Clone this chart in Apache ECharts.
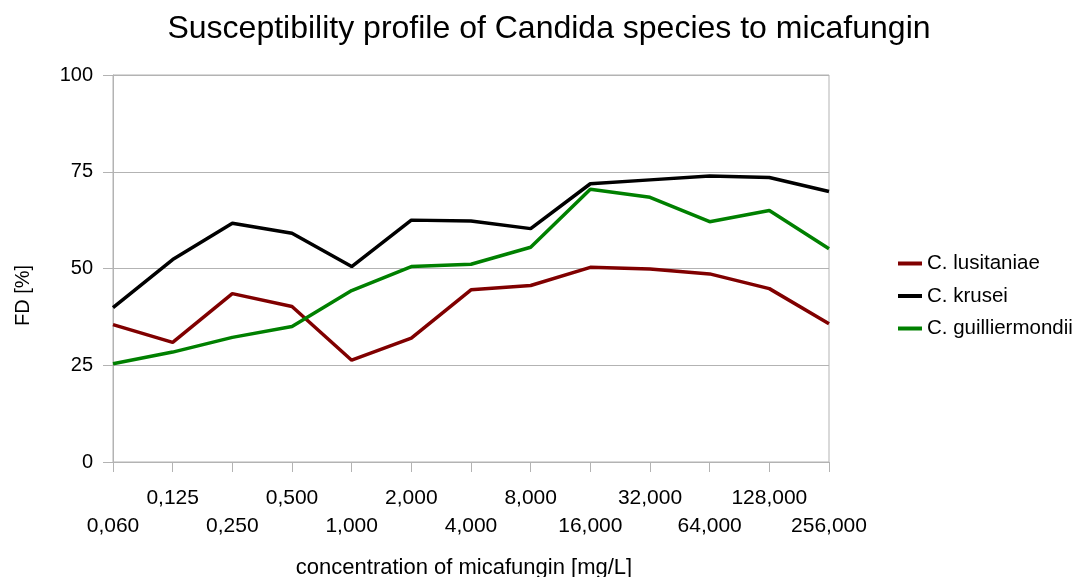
<!DOCTYPE html>
<html>
<head>
<meta charset="utf-8">
<script src="https://cdn.jsdelivr.net/npm/echarts@6/dist/echarts.min.js"></script>
<style>html,body{margin:0;padding:0;background:#fff}#c{width:1073px;height:577px}</style>
</head>
<body>
<div id="c"></div>
<script>
const categories = ['0,060','0,125','0,250','0,500','1,000','2,000','4,000','8,000','16,000','32,000','64,000','128,000','256,000'];
const lusitaniae = [35.5, 30.9, 43.5, 40.2, 26.3, 32.0, 44.5, 45.6, 50.3, 49.9, 48.6, 44.8, 35.7];
const krusei = [39.9, 52.3, 61.7, 59.1, 50.5, 62.5, 62.3, 60.3, 71.9, 72.9, 73.9, 73.5, 69.9];
const guilliermondii = [25.4, 28.4, 32.2, 35.0, 44.3, 50.5, 51.1, 55.5, 70.5, 68.4, 62.1, 65.0, 55.1];
const yTicks = [0, 25, 50, 75, 100];

const FONT = '"Liberation Sans", Arial, sans-serif';
const chart = echarts.init(document.getElementById('c'));
chart.setOption({
  animation: false,
  backgroundColor: '#fff',
  textStyle: { fontFamily: FONT, color: '#000' },
  title: {
    text: 'Susceptibility profile of Candida species to micafungin',
    left: 544, top: 8, textAlign: 'center',
    textStyle: { fontFamily: FONT, fontSize: 32, fontWeight: 'normal', color: '#000' }
  },
  legend: {
    orient: 'vertical', left: 898, top: 253, padding: 0,
    icon: 'rect', itemWidth: 24, itemHeight: 4, itemGap: 11.5,
    textStyle: { fontFamily: FONT, fontSize: 20.5, color: '#000' },
    data: ['C. lusitaniae', 'C. krusei', 'C. guilliermondii']
  },
  grid: { left: 113, right: 244, top: 75, bottom: 115, show: true, borderColor: '#b3b3b3', borderWidth: 1, outerBoundsMode: 'none', containLabel: false },
  xAxis: {
    type: 'category', boundaryGap: false, data: categories,
    axisLine: { lineStyle: { color: '#b3b3b3' } },
    axisTick: { show: true, length: 10, interval: 0, lineStyle: { color: '#b3b3b3' } },
    axisLabel: {
      interval: 0, fontSize: 21, color: '#000', fontFamily: FONT, lineHeight: 28, margin: 22,
      formatter: (v, i) => (i % 2 === 0 ? '\n' + v : v)
    },
    name: 'concentration of micafungin [mg/L]', nameLocation: 'middle', nameGap: 95,
    nameTextStyle: { fontSize: 22, color: '#000', fontFamily: FONT, padding: [0, 14, 0, 0] }
  },
  yAxis: {
    type: 'value', min: yTicks[0], max: yTicks[yTicks.length - 1], interval: 25,
    axisLine: { show: true, lineStyle: { color: '#b3b3b3' } },
    axisTick: { show: true, length: 10, lineStyle: { color: '#b3b3b3' } },
    axisLabel: { fontSize: 20, color: '#000', fontFamily: FONT, margin: 20 },
    splitLine: { lineStyle: { color: '#b3b3b3' } },
    name: 'FD [%]', nameLocation: 'middle', nameRotate: 90, nameGap: 80,
    nameTextStyle: { fontSize: 20, color: '#000', fontFamily: FONT, padding: [0, 54, 0, 0] }
  },
  series: [
    { name: 'C. lusitaniae', type: 'line', data: lusitaniae, symbol: 'none', color: '#800000', lineStyle: { width: 3.5, color: '#800000' } },
    { name: 'C. krusei', type: 'line', data: krusei, symbol: 'none', color: '#000000', lineStyle: { width: 3.5, color: '#000000' } },
    { name: 'C. guilliermondii', type: 'line', data: guilliermondii, symbol: 'none', color: '#008000', lineStyle: { width: 3.5, color: '#008000' } }
  ]
});
</script>
</body>
</html>
